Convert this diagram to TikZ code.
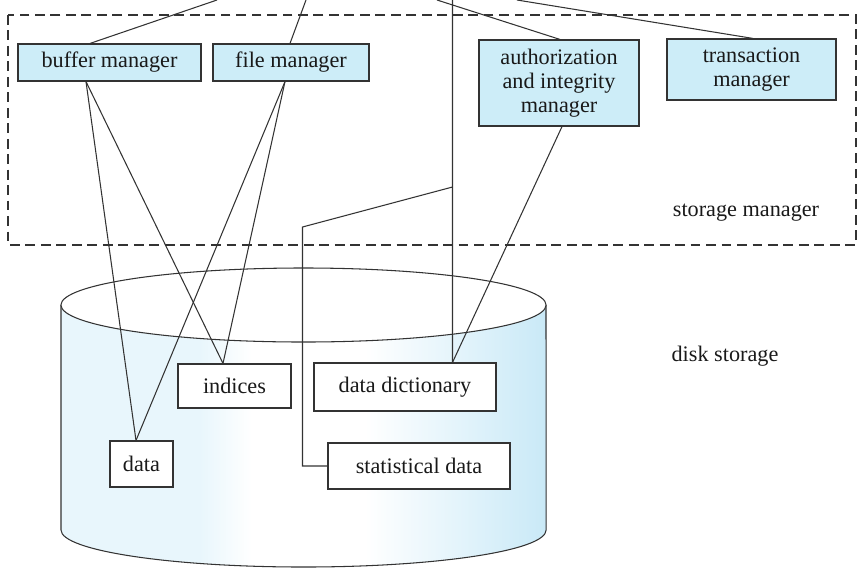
\documentclass[tikz,border=0pt]{standalone}
\usepackage{fontspec}
\setmainfont{Liberation Serif}

\definecolor{mgrblue}{HTML}{CDEDF8}
\definecolor{disklight}{HTML}{E8F6FC}
\definecolor{diskdark}{HTML}{C9E9F7}
\definecolor{linegray}{HTML}{333333}

\tikzset{
	mgr/.style={draw=linegray, fill=mgrblue, line width=0.8pt, align=center, inner sep=0pt},
	store/.style={draw=linegray, fill=white, line width=0.8pt, inner sep=0pt},
	wire/.style={draw=linegray, line width=0.75pt},
}

\begin{document}
\begin{tikzpicture}[x=0.025cm, y=-0.025cm, font=\fontsize{15.8}{17}\selectfont, text=black!90]
		\useasboundingbox (0,0) rectangle (867,580);

		%Storage manager
		\draw [draw=linegray, line width=0.8pt, dash pattern=on 7pt off 4pt] (8,15) rectangle (856,245);
		\node (smlabel) at (746,213) {storage manager};

		%Disco
		\begin{scope}
			\clip (61,305)--(61,530) arc[start angle=180, end angle=360, x radius=6.0625cm, y radius=0.925cm]--(546,305) arc[start angle=0, end angle=-180, x radius=6.0625cm, y radius=0.925cm]--cycle;
			\fill [disklight] (61,260) rectangle (200,580);
			\shade [left color=disklight, right color=white] (199,260) rectangle (252,580);
			\fill [white] (251,260) rectangle (366,580);
			\shade [left color=white, right color=diskdark] (365,260) rectangle (547,580);
		\end{scope}
		\draw [wire] (61,305)--(61,530) arc[start angle=180, end angle=360, x radius=6.0625cm, y radius=0.925cm]--(546,305);
		\draw [wire, fill=white] (303.5,305) ellipse [x radius=6.0625cm, y radius=0.925cm];
		\node (dslabel) at (725,356) {disk storage};

		%Managers
		\node [mgr, minimum width=4.575cm, minimum height=0.925cm] (buffer) at (109.5,62.5) {buffer manager};
		\node [mgr, minimum width=3.9cm, minimum height=0.925cm] (file) at (291,62.5) {file manager};
		\node [mgr, minimum width=4cm, minimum height=2.15cm] (auth) at (559,83) {authorization\\and integrity\\manager};
		\node [mgr, minimum width=4.225cm, minimum height=1.525cm] (trans) at (751.5,69.5) {transaction\\manager};

		%Datos
		\node [store, minimum width=2.825cm, minimum height=1.1cm] (indices) at (234.5,386) {indices};
		\node [store, minimum width=4.55cm, minimum height=1.2cm] (dict) at (405,387) {data dictionary};
		\node [store, minimum width=1.575cm, minimum height=1.15cm] (data) at (141.5,464) {data};
		\node [store, minimum width=4.55cm, minimum height=1.15cm] (stat) at (419,466) {statistical data};

		%Lineas
		\coordinate (up1) at (217,0);
		\coordinate (up2) at (306,0);
		\coordinate (up3) at (452.5,0);
		\coordinate (up4) at (437,0);
		\coordinate (up5) at (517,0);
		\coordinate (tap) at (452.5,187);
		\coordinate (bend) at (302.5,227);

		\draw [wire] ([xshift=-0.4875cm]buffer.north)--(up1);
		\draw [wire] ([xshift=-0.025cm]file.north)--(up2);
		\draw [wire] (up3)--([xshift=1.1875cm]dict.north);
		\draw [wire] ([xshift=0.025cm]auth.north)--(up4);
		\draw [wire] ([xshift=0.0375cm]trans.north)--(up5);

		\draw [wire] ([xshift=-0.5875cm]buffer.south)--([xshift=-0.1375cm]data.north);
		\draw [wire] ([xshift=-0.5875cm]buffer.south)--([xshift=-0.2875cm]indices.north);
		\draw [wire] ([xshift=-0.15cm]file.south)--([xshift=-0.1375cm]data.north);
		\draw [wire] ([xshift=-0.15cm]file.south)--([xshift=-0.2875cm]indices.north);
		\draw [wire] ([xshift=0.075cm]auth.south)--([xshift=1.1875cm]dict.north);
		\draw [wire] (tap)--(bend) |- (stat.west);
	\end{tikzpicture}
\end{document}
